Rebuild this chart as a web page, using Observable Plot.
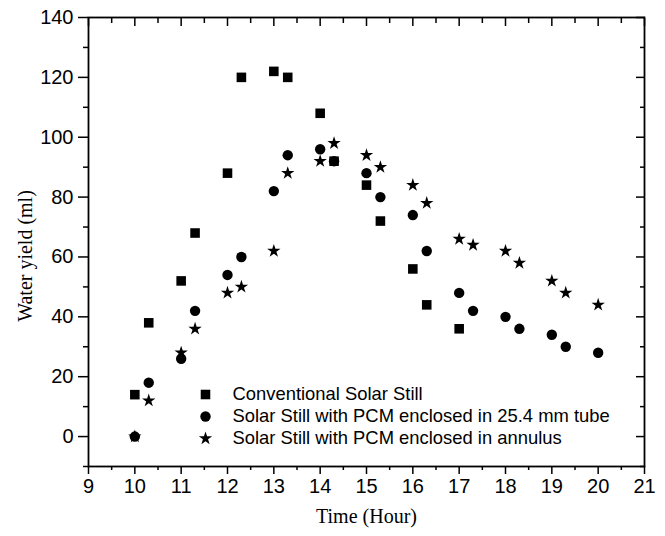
<!DOCTYPE html>
<html>
<head>
<meta charset="utf-8">
<script src="https://cdn.jsdelivr.net/npm/d3@7"></script>
<script src="https://cdn.jsdelivr.net/npm/@observablehq/plot@0.6"></script>
<style>
  html, body { margin: 0; padding: 0; background: #fff; }
</style>
</head>
<body>
<div id="chart"></div>
<script>
// ---- data ----
const seriesNames = [
  "Conventional Solar Still",
  "Solar Still with PCM enclosed in 25.4 mm tube",
  "Solar Still with PCM enclosed in annulus"
];
const seriesSymbols = ["square", "circle", "star"];

const conventionalTime  = [10, 10.3, 11, 11.3, 12, 12.3, 13, 13.3, 14, 14.3, 15, 15.3, 16, 16.3, 17];
const conventionalYield = [14, 38, 52, 68, 88, 120, 122, 120, 108, 92, 84, 72, 56, 44, 36];

const tubeTime  = [10, 10.3, 11, 11.3, 12, 12.3, 13, 13.3, 14, 14.3, 15, 15.3, 16, 16.3, 17, 17.3, 18, 18.3, 19, 19.3, 20];
const tubeYield = [0, 18, 26, 42, 54, 60, 82, 94, 96, 92, 88, 80, 74, 62, 48, 42, 40, 36, 34, 30, 28];

const annulusTime  = [10, 10.3, 11, 11.3, 12, 12.3, 13, 13.3, 14, 14.3, 15, 15.3, 16, 16.3, 17, 17.3, 18, 18.3, 19, 19.3, 20];
const annulusYield = [0, 12, 28, 36, 48, 50, 62, 88, 92, 98, 94, 90, 84, 78, 66, 64, 62, 58, 52, 48, 44];

const xTicks = [9, 10, 11, 12, 13, 14, 15, 16, 17, 18, 19, 20, 21];
const xMinorTicks = [9.5, 10.5, 11.5, 12.5, 13.5, 14.5, 15.5, 16.5, 17.5, 18.5, 19.5, 20.5];
const yTicks = [0, 20, 40, 60, 80, 100, 120, 140];
const yMinorTicks = [-10, 10, 30, 50, 70, 90, 110, 130];

const xTitle = "Time (Hour)";
const yTitle = "Water yield (ml)";

// ---- tables built from the arrays ----
const toRows = (t, v) => t.map((d, i) => ({time: d, yield: v[i]}));
const seriesRows = [
  toRows(conventionalTime, conventionalYield),
  toRows(tubeTime, tubeYield),
  toRows(annulusTime, annulusYield)
];
const seriesR = [5.4, 5.2, 4.2];

const tickFont = "'Liberation Sans Narrow', 'Arial Narrow', 'Liberation Sans', Arial, sans-serif";
const sansFont = "'Liberation Sans', Arial, sans-serif";
const serifFont = "'Liberation Serif', 'Times New Roman', serif";
const blank = () => "";
const sw = 1.5;

const chart = Plot.plot({
  width: 665,
  height: 536,
  marginLeft: 88,
  marginRight: 21,
  marginTop: 17,
  marginBottom: 70,
  style: {background: "white", fontFamily: sansFont, color: "black"},
  x: {domain: [9, 21]},
  y: {domain: [-10, 140]},
  marks: [
    // bottom axis (outward ticks)
    Plot.axisX(xTicks, {anchor: "bottom", tickSize: 8, tickPadding: 4, fontSize: 20, fontFamily: tickFont, strokeWidth: sw, label: null}),
    Plot.axisX(xMinorTicks, {anchor: "bottom", tickSize: 4, tickFormat: blank, strokeWidth: sw, label: null}),
    // top mirror (inward ticks)
    Plot.axisX(xTicks, {anchor: "top", tickSize: 8, dy: 8, tickFormat: blank, strokeWidth: sw, label: null}),
    Plot.axisX(xMinorTicks, {anchor: "top", tickSize: 5, dy: 5, tickFormat: blank, strokeWidth: sw, label: null}),
    // left axis (outward ticks)
    Plot.axisY(yTicks, {anchor: "left", tickSize: 10, tickPadding: 5, fontSize: 20, fontFamily: tickFont, strokeWidth: sw, label: null}),
    Plot.axisY(yMinorTicks, {anchor: "left", tickSize: 5, tickFormat: blank, strokeWidth: sw, label: null}),
    // right mirror (inward ticks)
    Plot.axisY(yTicks, {anchor: "right", tickSize: 9, dx: -9, tickFormat: blank, strokeWidth: sw, label: null}),
    Plot.axisY(yMinorTicks, {anchor: "right", tickSize: 5, dx: -5, tickFormat: blank, strokeWidth: sw, label: null}),
    Plot.frame({stroke: "black", strokeWidth: 1.8}),
    // data
    ...seriesRows.map((rows, i) =>
      Plot.dot(rows, {x: "time", y: "yield", symbol: seriesSymbols[i], r: seriesR[i], fill: "black"})
    ),
    // legend
    ...seriesNames.map((name, i) =>
      Plot.dot([name], {frameAnchor: "bottom-left", dx: 117, dy: -72 + i * 22, symbol: seriesSymbols[i], r: seriesR[i], fill: "black"})
    ),
    ...seriesNames.map((name, i) =>
      Plot.text([name], {frameAnchor: "bottom-left", dx: 144, dy: -72 + i * 22, textAnchor: "start", lineAnchor: "middle", fontSize: 18.4, fontFamily: sansFont, fill: "black"})
    ),
    // axis titles
    Plot.text([xTitle], {frameAnchor: "bottom", dy: 56, textAnchor: "middle", fontSize: 20, fontFamily: serifFont, fill: "black"}),
    Plot.text([yTitle], {frameAnchor: "left", rotate: -90, dx: -63, dy: 14, textAnchor: "middle", fontSize: 20, fontFamily: serifFont, fill: "black"})
  ]
});

document.getElementById("chart").appendChild(chart);
</script>
</body>
</html>
